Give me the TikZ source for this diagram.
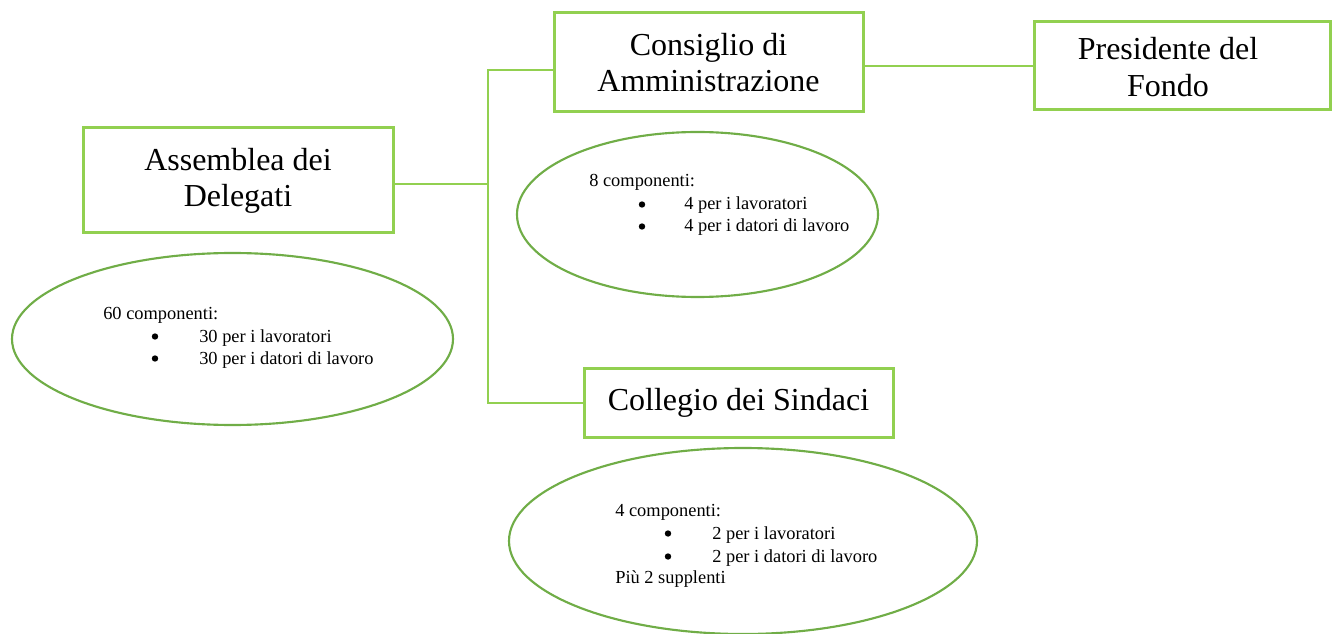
\documentclass[tikz,border=0pt]{standalone}
\usepackage{fontspec}
\setmainfont{Liberation Serif}
\usetikzlibrary{shapes.geometric}
\definecolor{boxgreen}{HTML}{92D050}
\definecolor{ellgreen}{HTML}{70AD47}
\begin{document}
\begin{tikzpicture}[x=0.75pt,y=-0.75pt,
  orgbox/.style={draw=boxgreen,line width=2.25pt,rectangle,inner sep=0pt,align=center,
    font=\fontsize{24}{27}\selectfont},
  bubble/.style={draw=ellgreen,line width=1.6pt,ellipse,inner sep=0pt},
  link/.style={draw=boxgreen,line width=0.8pt},
  txt/.style={anchor=base west,inner sep=0pt,font=\fontsize{13.8}{16.9}\selectfont},
  dot/.style={circle,fill=black,inner sep=0pt,minimum size=4.8pt}]
\useasboundingbox (0,0) rectangle (1333,634);
% boxes
\node[orgbox,minimum width=232.5pt,minimum height=78.75pt] (ass) at (238,180.5) {Assemblea dei\\Delegati};
\node[orgbox,minimum width=231.75pt,minimum height=74.25pt] (cons) at (708.5,62.5) {Consiglio di\\Amministrazione};
\node[orgbox,minimum width=222pt,minimum height=66pt] (pres) at (1182,66) {};
\node[inner sep=0pt,align=center,font=\fontsize{24}{27.5}\selectfont] (prestxt) at (1168,67) {Presidente del\\Fondo};
\node[orgbox,minimum width=231.75pt,minimum height=51.75pt] (coll) at (738.5,402.5) {Collegio dei Sindaci};
% ellipses
\node[bubble,minimum width=330.75pt,minimum height=129pt] (assell) at (232.5,339) {};
\node[bubble,minimum width=270.75pt,minimum height=123.75pt] (consell) at (697.5,214.5) {};
\node[bubble,minimum width=351pt,minimum height=139.5pt] (collell) at (743,541) {};
% connectors
\coordinate (jt) at (488,70);
\coordinate (ja) at (488,184);
\coordinate (jb) at (488,403);
\draw[link] (ass.east |- ja) -- (ja);
\draw[link] (jt -| cons.west) -- (jt) -- (jb) -- (jb -| coll.west);
\draw[link] (cons.east |- pres.west) -- (pres.west);
% ellipse texts
\node[txt] (a0) at (103,319) {60 componenti:};
\node[dot] (ab1) at (155,336.5) {};
\node[txt] (a1) at (199,342) {30 per i lavoratori};
\node[dot] (ab2) at (155,358.5) {};
\node[txt] (a2) at (199,364) {30 per i datori di lavoro};
\node[txt] (c0) at (589,187) {8 componenti:};
\node[dot] (cb1) at (642,204.5) {};
\node[txt] (c1) at (684,210) {4 per i lavoratori};
\node[dot] (cb2) at (642,226.5) {};
\node[txt] (c2) at (684,232) {4 per i datori di lavoro};
\node[txt] (s0) at (615,516) {4 componenti:};
\node[dot] (sb1) at (668,533.5) {};
\node[txt] (s1) at (712,539) {2 per i lavoratori};
\node[dot] (sb2) at (668,556.5) {};
\node[txt] (s2) at (712,562) {2 per i datori di lavoro};
\node[txt] (s3) at (615,583) {Più 2 supplenti};
\end{tikzpicture}
\end{document}
